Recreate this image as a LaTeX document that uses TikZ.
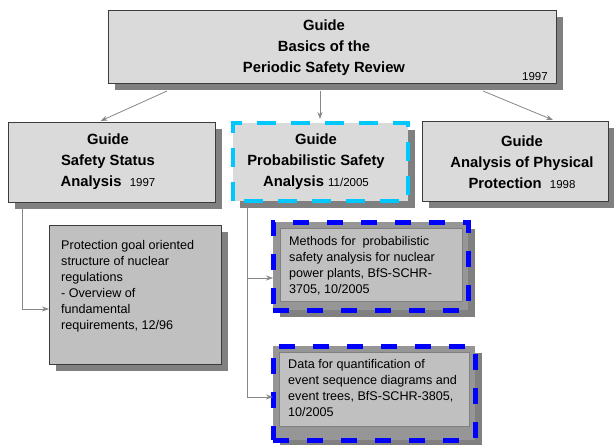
\documentclass[tikz,border=0pt]{standalone}
\usepackage{fontspec}
\setmainfont{Liberation Sans}
\usetikzlibrary{shadows,arrows.meta,calc}
\definecolor{boxgray}{RGB}{218,218,218}
\definecolor{lowgray}{RGB}{192,192,192}
\definecolor{shadowgray}{RGB}{128,128,128}
\definecolor{bandgray}{RGB}{150,150,150}
\definecolor{edgegray}{RGB}{60,60,60}
\definecolor{conngray}{RGB}{135,135,135}
\definecolor{hicyan}{RGB}{0,200,255}
\definecolor{hiblue}{RGB}{0,0,255}
\newcommand{\yr}[1]{{\fontsize{11.5}{21}\selectfont\mdseries #1}}
\tikzset{
  shadowed/.style={drop shadow={shadow xshift=7pt,shadow yshift=-7pt,fill=shadowgray,opacity=1}},
  guidebox/.style={rectangle,inner sep=0pt,outer sep=0pt,fill=boxgray,draw=edgegray,line width=0.8pt,shadowed},
  lowbox/.style={rectangle,inner sep=0pt,outer sep=0pt,fill=lowgray,draw=edgegray,line width=0.8pt,shadowed},
  bandbox/.style={rectangle,inner sep=0pt,outer sep=0pt,fill=bandgray,shadowed},
  innerbox/.style={rectangle,inner sep=0pt,outer sep=0pt,fill=lowgray,draw=shadowgray,line width=0.6pt},
  bluedash/.style={rectangle,inner sep=0pt,outer sep=0pt,draw=hiblue,line width=5pt,dash pattern=on 16pt off 18pt},
  cyandash/.style={draw=hicyan,line width=4.5pt,dash pattern=on 19pt off 15pt},
  titletext/.style={inner sep=0pt,align=center,font=\fontsize{14.8}{21}\selectfont\bfseries},
  bodytext/.style={inner sep=0pt,align=left,anchor=north west,font=\fontsize{12.6}{16}\selectfont},
  conn/.style={draw=conngray,line width=0.8pt,-{Stealth[length=7pt,width=5pt]}},
}
\begin{document}
\begin{tikzpicture}[x=1pt,y=-1pt]
\useasboundingbox[fill=white] (0,0) rectangle (614,445);

% boxes
\node[guidebox,minimum width=448pt,minimum height=73pt] (top) at (332,46.5) {};
\node[guidebox,minimum width=207pt,minimum height=80pt] (ss) at (111.5,162) {};
\node[guidebox,draw=none,minimum width=175pt,minimum height=78pt] (psa) at (320.5,162) {};
\draw[cyandash] (psa.south west) rectangle (psa.north east);
\node[guidebox,minimum width=186pt,minimum height=80pt] (app) at (515,161) {};
\node[lowbox,minimum width=172pt,minimum height=139pt] (prot) at (135,294.5) {};

\node[bandbox,minimum width=195pt,minimum height=88pt] (meth) at (370.5,266) {};
\node[innerbox,minimum width=182pt,minimum height=73pt] (methin) at (371,264.5) {};
\node[bluedash,minimum width=195pt,minimum height=88pt] (methframe) at (370.5,266) {};

\node[bandbox,minimum width=202pt,minimum height=94pt] (data) at (374,393) {};
\node[innerbox,minimum width=190pt,minimum height=74pt] (datain) at (374,389) {};
\node[bluedash,minimum width=202pt,minimum height=94pt] (dataframe) at (374,393) {};

% texts
\node[titletext] (toptext) at (324,48) {Guide\\Basics of the\\Periodic Safety Review};
\node[inner sep=0pt,font=\fontsize{11.5}{12}\selectfont] (topyear) at (535,77) {1997};
\node[titletext] (sstext) at (108,162) {Guide\\Safety Status\\Analysis\ \ \yr{1997}};
\node[titletext] (psatext) at (316,162) {Guide\\Probabilistic Safety\\Analysis \yr{11/2005}};
\node[titletext] (apptext) at (522,162) {Guide\\Analysis of Physical\\Protection\ \ \yr{1998}};
\node[bodytext] (prottext) at (61,240) {Protection goal oriented\\structure of nuclear\\regulations\\- Overview of\\fundamental\\requirements, 12/96};
\node[bodytext] (methtext) at (289,236.5) {Methods for\ \ probabilistic\\safety analysis for nuclear\\power plants, BfS-SCHR-\\3705, 10/2005};
\node[bodytext] (datatext) at (288,359.5) {Data for quantification of\\event sequence diagrams and\\event trees, BfS-SCHR-3805,\\10/2005};

% connectors
\coordinate (tl) at (167,91);
\coordinate (tm) at (320,91);
\coordinate (tr) at (483,91);
\coordinate (sdown) at (22,209);
\coordinate (pdown) at (247,208);
\draw[conn] (tl) -- ([xshift=-11pt,yshift=1pt]ss.north);
\draw[conn] (tm) -- ([yshift=4pt]psa.north -| tm);
\draw[conn] (tr) -- ([xshift=38pt,yshift=1pt]app.north);
\draw[conn] (sdown) |- ([yshift=-14.5pt]prot.west);
\draw[conn] (pdown) |- ([yshift=-12pt]methframe.west);
\draw[conn] (pdown) |- ([yshift=-4pt]dataframe.west);
\end{tikzpicture}
\end{document}
